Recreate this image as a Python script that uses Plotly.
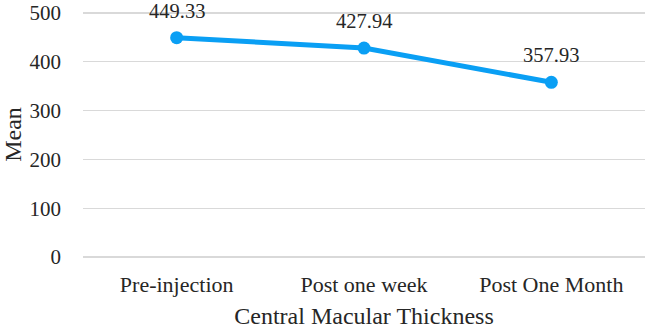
import plotly.graph_objects as go

categories = ["Pre-injection", "Post one week", "Post One Month"]
means = [449.33, 427.94, 357.93]
y_ticks = [0, 100, 200, 300, 400, 500]

xpos = list(range(len(categories)))
color = "#0A9FF4"
FONT = "Liberation Serif"
TXT = "#262626"

fig = go.Figure()
fig.add_trace(go.Scatter(
    x=xpos, y=means,
    mode="lines+markers",
    line=dict(color=color, width=5),
    marker=dict(color=color, size=13),
    cliponaxis=False,
    hoverinfo="skip",
))

for xi, v in zip(xpos, means):
    fig.add_annotation(
        x=xi, y=v, text=f"{v:.2f}", showarrow=False,
        yanchor="middle", xanchor="center", yshift=27,
        font=dict(family=FONT, size=20.5, color=TXT),
    )

fig.update_layout(
    width=646, height=329,
    margin=dict(l=81, r=1, t=10, b=68),
    plot_bgcolor="white", paper_bgcolor="white",
    font=dict(family=FONT, size=21, color=TXT),
    showlegend=False,
    xaxis=dict(
        title=dict(text="Central Macular Thickness", font=dict(size=24), standoff=14),
        range=[-0.5, 2.5], tickvals=xpos, ticktext=categories,
        showgrid=False, zeroline=False, showline=False,
        ticks="", tickfont=dict(size=22), ticklabelstandoff=10,
    ),
    yaxis=dict(
        title=dict(text="Mean", font=dict(size=24), standoff=12),
        range=[-4, 506], tickvals=y_ticks,
        showgrid=True, gridcolor="#D9D9D9", gridwidth=1.3,
        zeroline=False, showline=False, ticks="",
        tickfont=dict(size=21), ticklabelstandoff=21,
    ),
)

fig.write_html(
    "out.html",
    config={"displayModeBar": False, "staticPlot": True},
    post_script="document.body.style.margin='0';document.body.style.overflow='hidden';",
)
